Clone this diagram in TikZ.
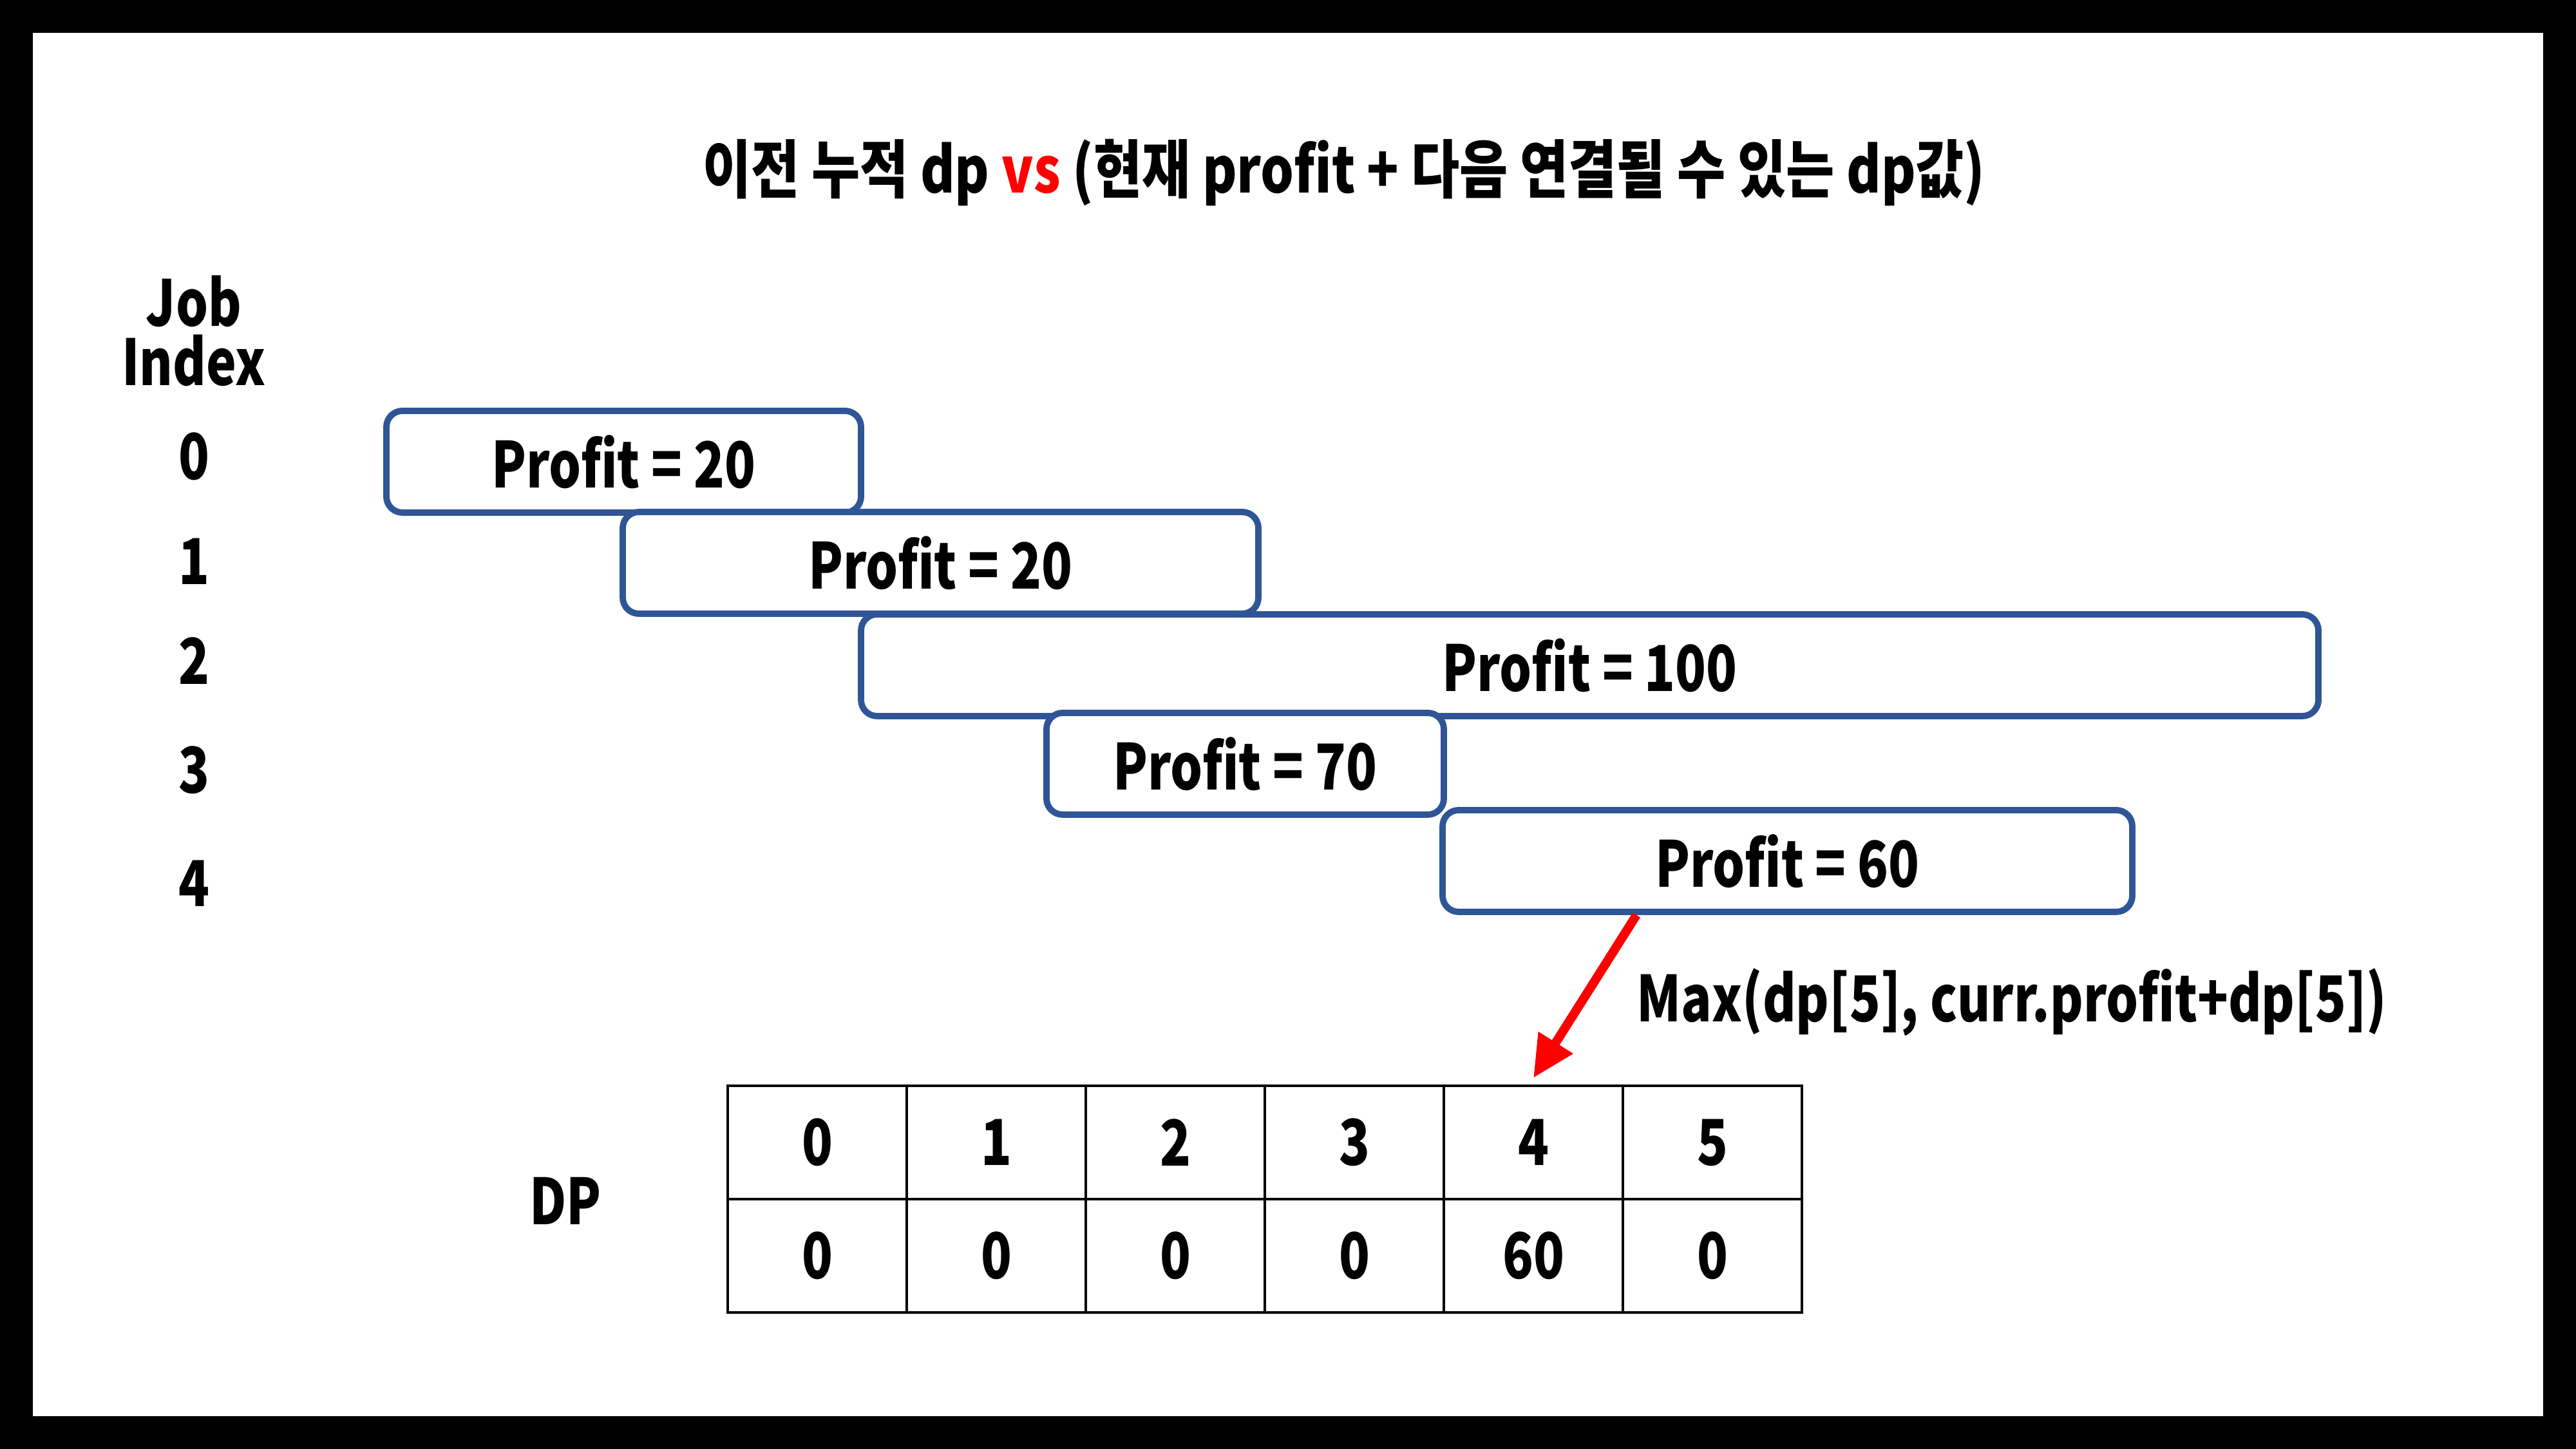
\documentclass[tikz,border=0pt]{standalone}
\usepackage{fontspec}
\setmainfont{Noto Sans CJK KR}[FakeStretch=0.8, BoldFont={Noto Sans CJK KR Black}]
\usepackage{tikz}
\usetikzlibrary{arrows.meta}
\definecolor{jobblue}{RGB}{47,85,151}
\tikzset{
    every node/.style={font=\fontsize{28}{26}\selectfont\bfseries, inner sep=0pt}
}
\tikzset{
    jobbox/.style={draw=jobblue, fill=white, line width=2.8pt,
    	rounded corners=0.25cm, minimum height=1.58cm}
}
\tikzset{
    cell/.style={draw, line width=1.2pt, minimum width=2.78cm, minimum height=1.76cm}
}
\tikzset{
    maxarrow/.style={draw=red, line width=4pt, -{Triangle[length=0.65cm, width=0.6cm]}}
}

\begin{document}
\begin{tikzpicture}
	\fill[black] (0,0) rectangle (40,22.5);
	\fill[white] (0.51,0.51) rectangle (39.49,21.99);

	\node (title) [font=\fontsize{28}{26}\selectfont\bfseries\addfontfeature{FakeStretch=0.83}] at (20.87,19.82) {이전 누적 dp \textcolor{red}{vs} (현재 profit + 다음 연결될 수 있는 dp값)};
	\node (head) [align=center] at (3.01,17.36) {Job\\Index};

	\node (r0) at (3.01,15.41) {0};
	\node (r1) at (3.01,13.78) {1};
	\node (r2) at (3.01,12.24) {2};
	\node (r3) at (3.01,10.54) {3};
	\node (r4) at (3.01,8.78) {4};

	\node (j0) [jobbox, minimum width=7.37cm] at (9.685,15.33) {Profit = 20};
	\node (j1) [jobbox, minimum width=9.87cm] at (14.605,13.76) {Profit = 20};
	\node (j2) [jobbox, minimum width=22.63cm] at (24.685,12.17) {Profit = 100};
	\node (j3) [jobbox, minimum width=6.17cm] at (19.335,10.64) {Profit = 70};
	\node (j4) [jobbox, minimum width=10.71cm] at (27.755,9.13) {Profit = 60};

	\node (dp) at (8.78,3.85) {DP};
	\foreach \i/\v in {0/0,1/0,2/0,3/0,4/60,5/0} {
		\node (h\i) [cell] at (12.69+2.78*\i,4.76) {\i};
		\node (v\i) [cell] at (12.69+2.78*\i,3.00) {\v};
	}

	\node (max) [anchor=west] at (25.41,6.94) {Max(dp[5], curr.profit+dp[5])};
	\draw[maxarrow] ([xshift=3.06cm]j4.south west) -- ([yshift=1mm]h4.north);
\end{tikzpicture}
\end{document}
